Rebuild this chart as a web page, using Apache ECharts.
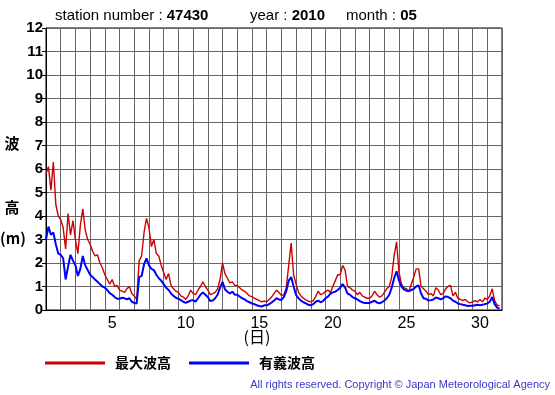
<!DOCTYPE html>
<html>
<head>
<meta charset="utf-8">
<script src="https://cdn.jsdelivr.net/npm/echarts@6/dist/echarts.min.js"></script>
<style>
html,body{margin:0;padding:0;background:#fff;}
#chart{width:555px;height:395px;}
</style>
</head>
<body>
<div id="chart"></div>
<script>
// 4-hourly samples (6 per day), May 1 .. May 31, 2010, station 47430
const samplesPerDay = 6;
const maxWave = [ // 最大波高 (m)
  5.8,6.1,5.1,6.3,4.5,4.0,
  3.85,3.5,2.6,4.1,3.2,3.8,
  3.0,2.4,3.6,4.3,3.4,3.0,
  2.8,2.5,2.3,2.35,2.0,1.8,
  1.5,1.3,1.1,1.3,1.0,1.05,
  0.85,0.8,0.75,0.9,1.0,0.7,
  0.6,0.45,2.1,2.3,3.3,3.9,
  3.5,2.7,3.0,2.4,2.3,1.9,
  1.6,1.3,1.55,1.05,0.9,0.8,
  0.75,0.6,0.55,0.45,0.6,0.85,
  0.7,0.65,0.85,1.0,1.2,1.0,
  0.85,0.65,0.7,0.75,0.9,1.3,
  2.0,1.55,1.35,1.15,1.2,1.05,
  1.05,0.95,0.85,0.8,0.7,0.6,
  0.57,0.5,0.45,0.4,0.35,0.38,
  0.35,0.45,0.55,0.7,0.85,0.75,
  0.62,0.65,0.95,1.9,2.85,1.5,
  1.1,0.75,0.6,0.5,0.43,0.38,
  0.35,0.4,0.57,0.8,0.65,0.7,
  0.78,0.85,0.75,1.0,1.25,1.5,
  1.5,1.9,1.7,1.0,0.95,0.85,
  0.8,0.65,0.75,0.6,0.55,0.5,
  0.5,0.6,0.8,0.65,0.55,0.6,
  0.75,0.9,1.0,1.4,2.3,2.9,
  1.6,1.1,0.95,0.9,0.8,1.1,
  1.4,1.75,1.75,1.0,0.9,0.8,
  0.65,0.7,0.6,0.95,0.85,0.65,
  0.7,0.9,1.0,1.05,0.6,0.75,
  0.5,0.45,0.4,0.45,0.35,0.3,
  0.35,0.4,0.35,0.45,0.35,0.5,
  0.45,0.6,0.9,0.4,0.2,0.18
];
const sigWave = [ // 有義波高 (m)
  3.0,3.55,3.2,3.3,2.8,2.4,
  2.35,2.2,1.3,1.85,2.35,2.1,
  1.9,1.45,1.75,2.3,1.9,1.7,
  1.5,1.4,1.3,1.2,1.1,1.0,
  0.95,0.85,0.72,0.65,0.55,0.48,
  0.48,0.52,0.5,0.45,0.5,0.35,
  0.3,0.28,1.4,1.45,1.95,2.2,
  1.9,1.75,1.7,1.5,1.35,1.25,
  1.1,0.95,0.85,0.7,0.6,0.52,
  0.48,0.42,0.35,0.3,0.35,0.4,
  0.42,0.36,0.5,0.65,0.75,0.65,
  0.55,0.38,0.4,0.5,0.65,0.95,
  1.2,0.88,0.78,0.7,0.78,0.65,
  0.65,0.57,0.5,0.45,0.38,0.33,
  0.28,0.25,0.2,0.17,0.15,0.2,
  0.2,0.25,0.32,0.4,0.5,0.45,
  0.43,0.55,0.8,1.25,1.4,1.0,
  0.64,0.5,0.4,0.33,0.28,0.22,
  0.2,0.25,0.35,0.4,0.33,0.38,
  0.5,0.57,0.7,0.75,0.78,0.85,
  0.95,1.1,0.95,0.7,0.65,0.55,
  0.5,0.45,0.38,0.33,0.3,0.3,
  0.3,0.35,0.4,0.32,0.28,0.33,
  0.4,0.5,0.65,0.95,1.35,1.65,
  1.25,1.0,0.88,0.82,0.8,0.85,
  0.9,1.0,1.05,0.7,0.5,0.48,
  0.4,0.42,0.45,0.53,0.5,0.45,
  0.5,0.58,0.55,0.5,0.4,0.35,
  0.28,0.25,0.22,0.2,0.17,0.18,
  0.18,0.2,0.22,0.2,0.22,0.25,
  0.28,0.35,0.55,0.25,0.1,0.06
];
const dayLabels = [5, 10, 15, 20, 25, 30];
const seriesNames = ['最大波高', '有義波高'];
const stationNo = '47430', yearText = '2010', monthText = '05';

// x = day number where day d noon sits at d (May 1 00:00 -> 0.5)
function toPairs(arr) {
  return arr.map((v, i) => [0.5 + i / samplesPerDay, v]);
}

const chart = echarts.init(document.getElementById('chart'), null, {renderer: 'canvas'});
const sans = '"Liberation Sans", Arial, sans-serif';
const cjk = '"Noto Sans CJK JP", sans-serif';

chart.setOption({
  animation: false,
  backgroundColor: '#fff',
  grid: {left: 46, right: 53, top: 28, bottom: 85, show: true, borderColor: '#000', borderWidth: 1, containLabel: false},
  xAxis: {
    type: 'value', min: 0.5, max: 31.5, interval: 1,
    axisLine: {show: true, lineStyle: {color: '#000', width: 1}},
    axisTick: {show: false},
    splitLine: {show: true, lineStyle: {color: '#666', width: 1}},
    axisLabel: {customValues: dayLabels, color: '#000', fontSize: 16, fontFamily: sans, margin: 6, formatter: v => String(v)}
  },
  yAxis: {
    type: 'value', min: 0, max: 12, interval: 1,
    axisLine: {show: true, lineStyle: {color: '#000', width: 1}},
    axisTick: {show: true, length: 4, lineStyle: {color: '#000'}},
    splitLine: {show: true, lineStyle: {color: '#666', width: 1}},
    axisLabel: {color: '#000', fontSize: 15, fontWeight: 'bold', fontFamily: sans, margin: 3}
  },
  legend: {
    left: 40, top: 351, icon: 'rect', itemWidth: 60, itemHeight: 3, itemGap: 18,
    textStyle: {fontFamily: cjk, fontSize: 14, fontWeight: 'bold', color: '#000', padding: [0, 0, 0, 5]},
    data: seriesNames
  },
  series: [
    {name: seriesNames[0], type: 'line', data: toPairs(maxWave), showSymbol: false, symbol: 'none',
     lineStyle: {color: '#cc0000', width: 1.4}, itemStyle: {color: '#cc0000'}},
    {name: seriesNames[1], type: 'line', data: toPairs(sigWave), showSymbol: false, symbol: 'none',
     lineStyle: {color: '#0000ff', width: 2}, itemStyle: {color: '#0000ff'}}
  ],
  graphic: [
    {type: 'text', left: 55, top: 8, style: {
      text: '{a|station number : }{b|' + stationNo + '}', rich: {a: {fontSize: 15, fontFamily: sans, fill: '#000'}, b: {fontSize: 15, fontFamily: sans, fill: '#000', fontWeight: 'bold'}}}},
    {type: 'text', left: 250, top: 8, style: {
      text: '{a|year : }{b|' + yearText + '}', rich: {a: {fontSize: 15, fontFamily: sans, fill: '#000'}, b: {fontSize: 15, fontFamily: sans, fill: '#000', fontWeight: 'bold'}}}},
    {type: 'text', left: 346, top: 8, style: {
      text: '{a|month : }{b|' + monthText + '}', rich: {a: {fontSize: 15, fontFamily: sans, fill: '#000'}, b: {fontSize: 15, fontFamily: sans, fill: '#000', fontWeight: 'bold'}}}},
    {type: 'text', x: 12, y: 143, style: {text: '波', font: 'bold 15px ' + cjk, fill: '#000', align: 'center', verticalAlign: 'middle'}},
    {type: 'text', x: 12, y: 207, style: {text: '高', font: 'bold 15px ' + cjk, fill: '#000', align: 'center', verticalAlign: 'middle'}},
    {type: 'text', x: 13, y: 238, style: {text: '(m)', font: 'bold 15px ' + cjk, fill: '#000', align: 'center', verticalAlign: 'middle'}},
    {type: 'text', x: 257, y: 337, style: {text: '(日)', font: '16px ' + cjk, fill: '#000', align: 'center', verticalAlign: 'middle'}},
    {type: 'text', x: 550, y: 385, style: {text: 'All rights reserved. Copyright © Japan Meteorological Agency', font: '11px ' + sans, fill: '#3838c8', align: 'right', verticalAlign: 'middle'}}
  ]
});
</script>
</body>
</html>
